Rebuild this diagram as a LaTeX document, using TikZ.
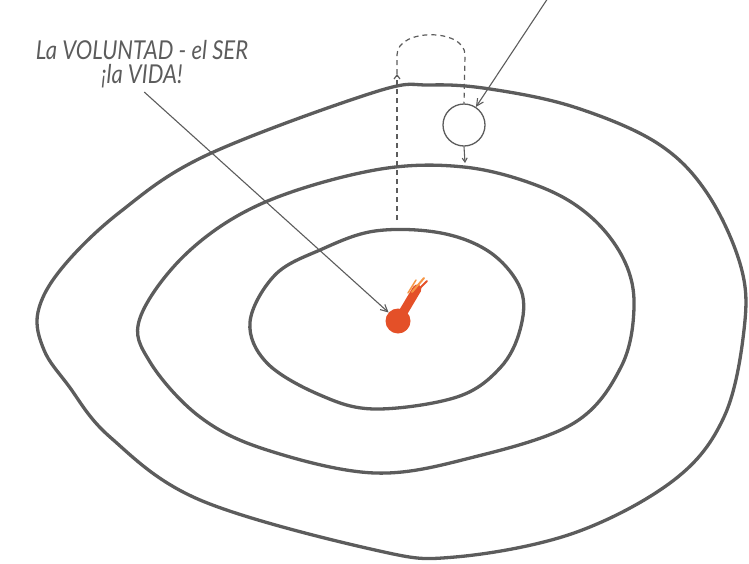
\documentclass[tikz,border=0pt]{standalone}
\usepackage{fontspec}
\newfontfamily\handfont{Lato}[FakeStretch=0.85]
\usetikzlibrary{arrows.meta}
\definecolor{pencil}{RGB}{92,92,92}
\definecolor{flame}{RGB}{228,80,40}
\definecolor{flamelight}{RGB}{246,150,70}

\begin{document}
\begin{tikzpicture}[x=1pt, y=-1pt,
    loopline/.style={line width=3.3pt, draw=pencil, line join=round},
    guide/.style={line width=1.2pt, draw=pencil, dashed, dash pattern=on 5pt off 4pt},
    pointer/.style={line width=1.1pt, draw=pencil, -{Straight Barb[length=7pt, width=7pt]}},
    tick/.style={line width=1.1pt, draw=pencil, -{Straight Barb[length=4pt, width=5pt]}},
    hand/.style={text=pencil, align=center, inner sep=2pt,
        font=\handfont\itshape\fontsize{26}{28}\selectfont}]
    \useasboundingbox (0,0) rectangle (749,563);

    % Outer loop
    \draw[loopline] plot[smooth cycle, tension=0.6] coordinates {
        (38,312) (62,268) (120,212) (207,155) (375,92) (430,85) (490,89) (574,107)
        (657,143) (707,193) (741,267) (744,330) (724,417) (674,480)
        (574,533) (455,557) (375,550) (200,500) (110,437) (68,385) (44,350)};

    % Middle loop
    \draw[loopline] plot[smooth cycle, tension=0.6] coordinates {
        (140,318) (187,253) (263,203) (375,170) (464,167) (541,187)
        (591,217) (624,260) (634,307) (621,367) (574,423) (474,457)
        (375,473) (267,450) (200,417) (150,362)};

    % Inner loop
    \draw[loopline] plot[smooth cycle, tension=0.6] coordinates {
        (250,322) (275,275) (320,250) (375,231) (441,233) (491,253)
        (521,290) (520,330) (500,368) (457,397) (375,409) (320,395)
        (267,363)};

    % Small soul circle and its path
    \node[circle, draw=pencil, line width=1.3pt, minimum size=42pt, inner sep=0pt] (soul) at (464,125) {};
    \coordinate (rise) at (397,220);
    \coordinate (risetip) at (397,74);
    \coordinate (bend) at (465,55);
    \coordinate (sink) at (465,163);
    \draw[guide, -{Straight Barb[length=4pt, width=6pt]}] (rise) -- (risetip);
    \draw[guide] (risetip) -- (397,55) .. controls (397,28) and (465,28) .. (bend) -- (soul.north);
    \draw[tick] (soul.south) -- (sink);

    % Pointer from above onto the circle
    \coordinate (above) at (548,-2);
    \draw[pointer] (above) -- (soul);

    % Red heart of the loops
    \node[circle, fill=flame, minimum size=25pt, inner sep=0pt] (heart) at (398,321) {};
    \draw[flame, line width=9pt, line cap=round] (heart.center) -- (417,289);
    \draw[flamelight, line width=2pt, line cap=round] (412,292) -- (424,278);
    \draw[flame, line width=2pt, line cap=round] (418,290) -- (427,281);
    \draw[flamelight, line width=1.5pt, line cap=round] (408,293) -- (416,280);

    % Label and its pointer
    \node[hand] (will) at (142,64) {La VOLUNTAD - el SER\\[-4pt] ¡la VIDA!};
    \draw[pointer, shorten <=3pt] (will.south) -- (heart);
\end{tikzpicture}
\end{document}
